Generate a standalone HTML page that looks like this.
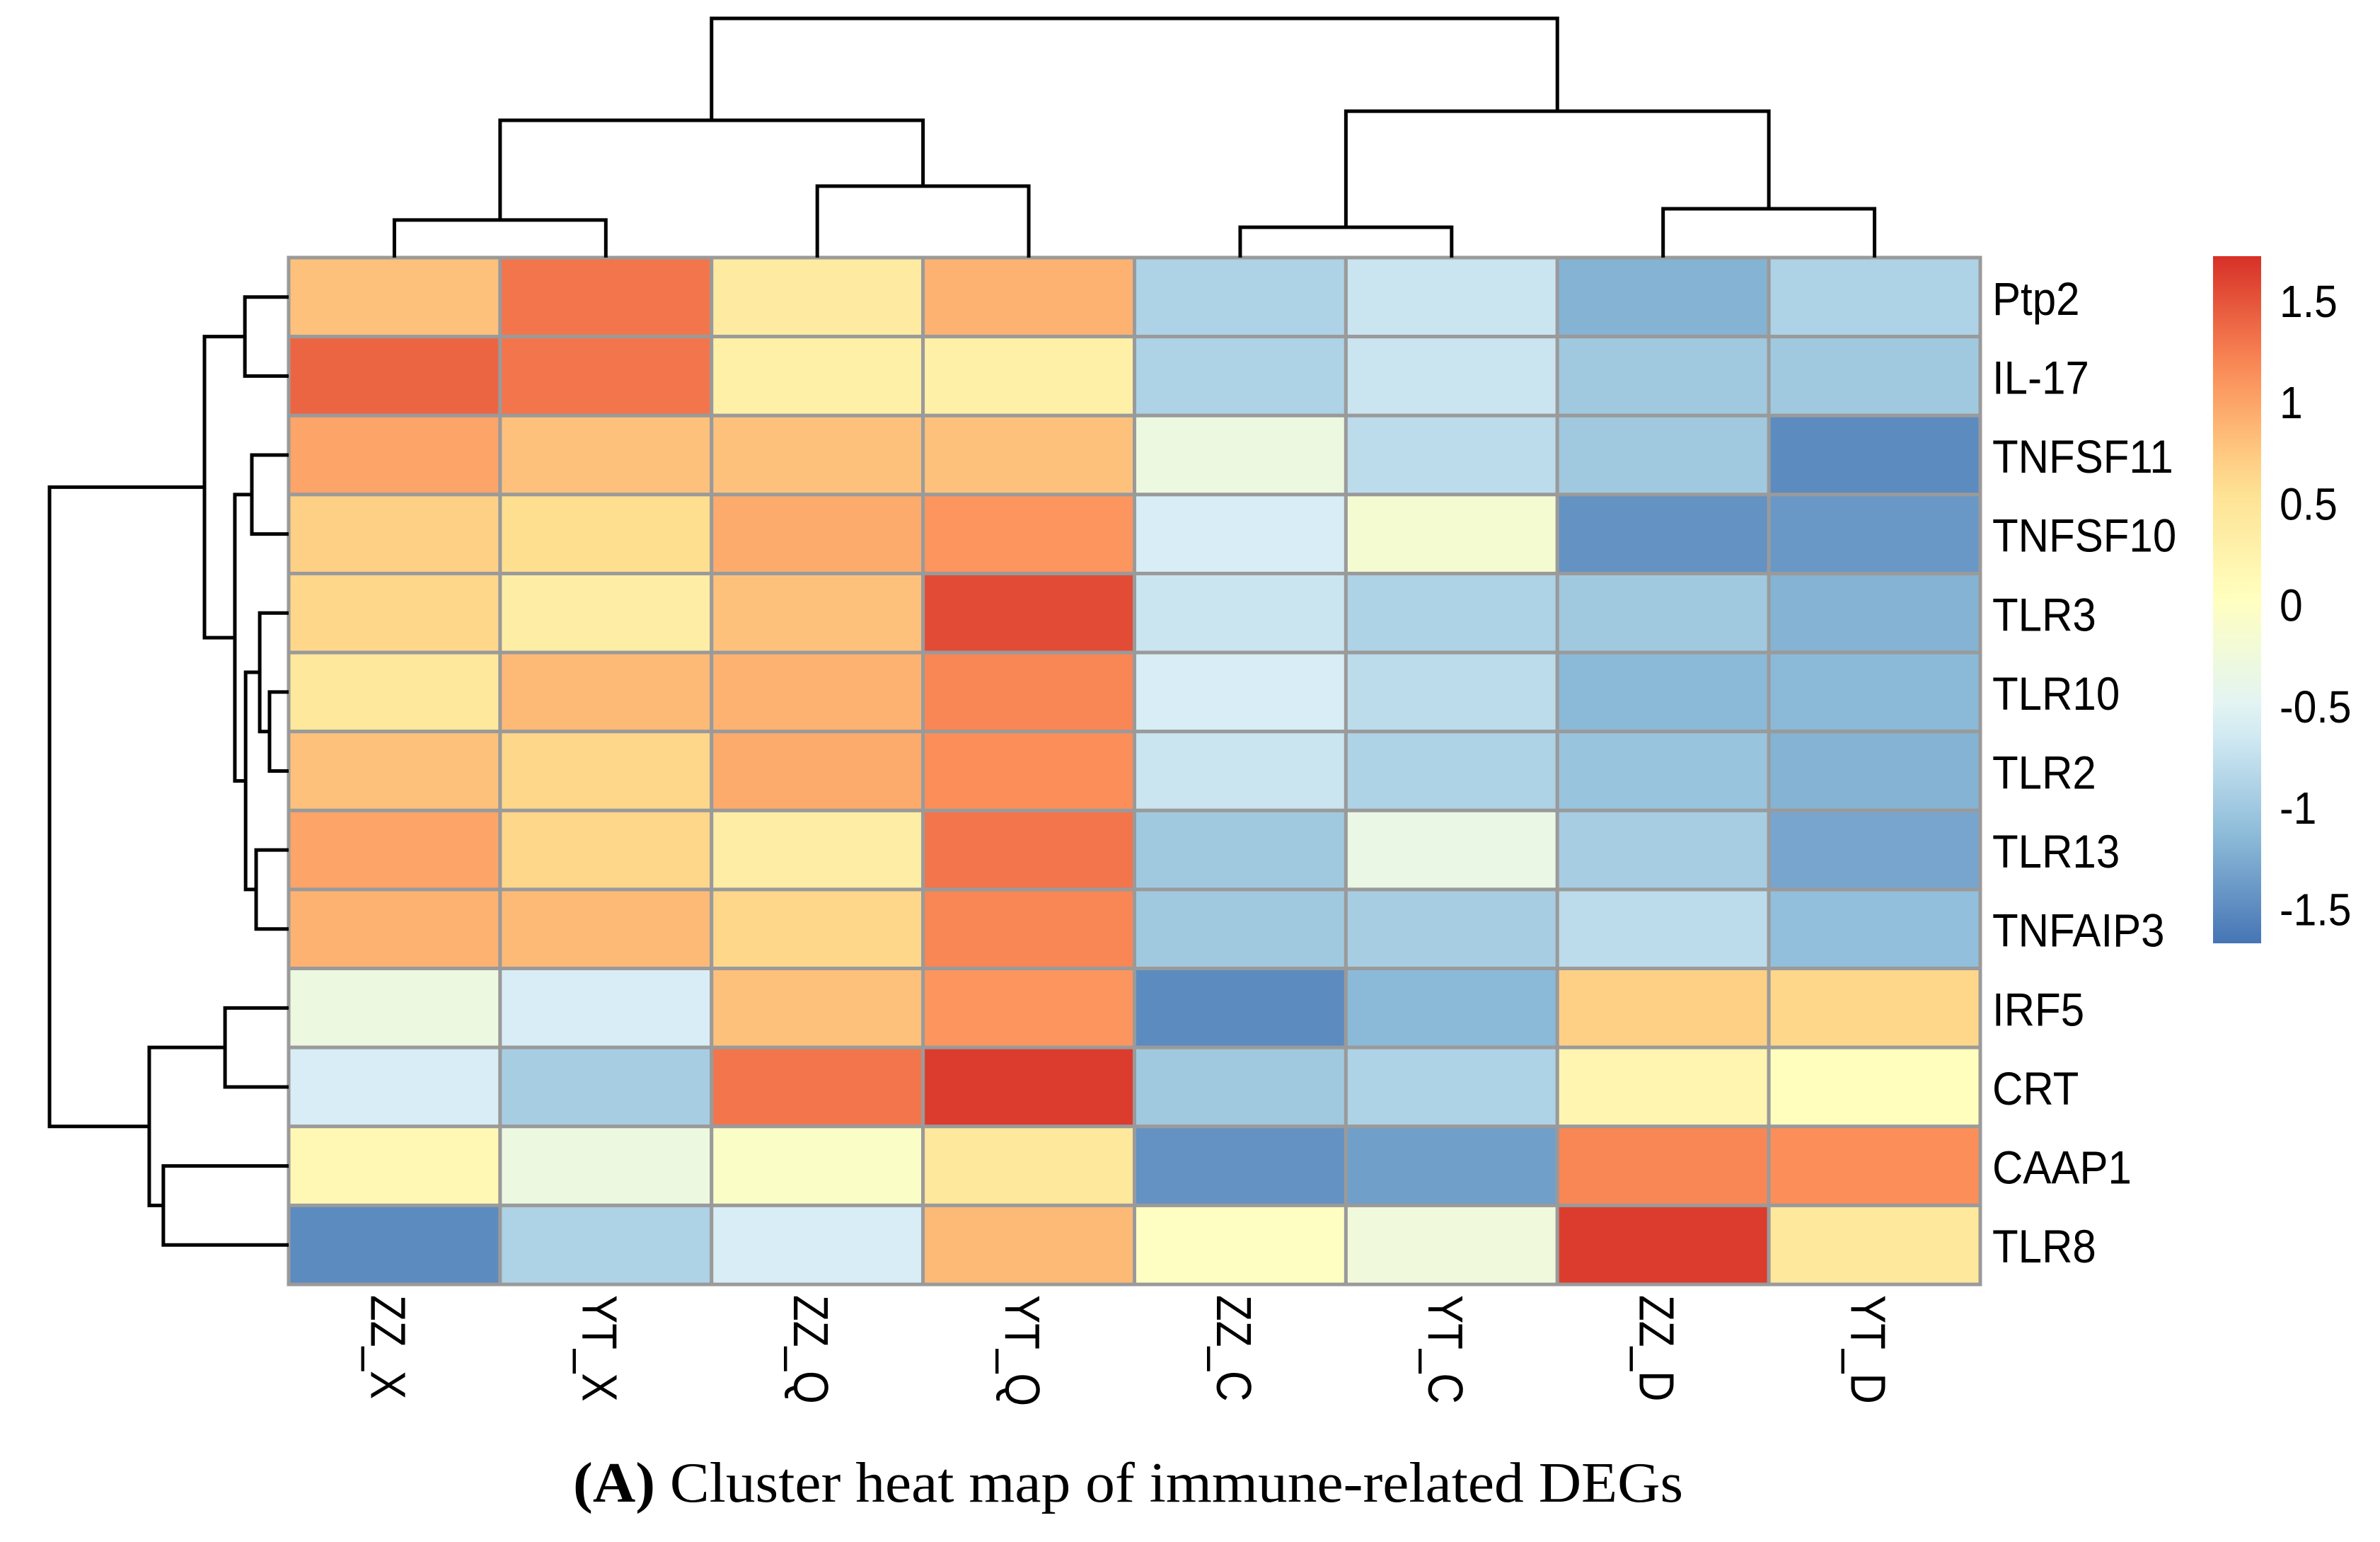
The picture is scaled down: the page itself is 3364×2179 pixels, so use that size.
<!DOCTYPE html>
<html><head><meta charset="utf-8"><style>
html,body{margin:0;padding:0;background:#fff;}
svg{display:block;}
</style></head><body>
<svg id="chart" xmlns="http://www.w3.org/2000/svg" width="3364" height="2179" viewBox="0 0 3364 2179">
<rect width="3364" height="2179" fill="#fff"/>
<g id="cells"></g>
<g id="coldendro"></g>
<g id="rowdendro"></g>
<g id="labels"></g>
<defs><linearGradient id="cbgrad" x1="0" y1="1" x2="0" y2="0"></linearGradient></defs>
<g id="legend"></g>
<text x="810" y="2122" font-family="'Liberation Serif', serif" font-size="80" textLength="1569" lengthAdjust="spacingAndGlyphs" fill="#000"><tspan font-weight="bold">(A)</tspan>  Cluster heat map of immune-related DEGs</text>
</svg>
<script>
const rowNames = ["Ptp2","IL-17","TNFSF11","TNFSF10","TLR3","TLR10","TLR2","TLR13","TNFAIP3","IRF5","CRT","CAAP1","TLR8"];
const colNames = ["ZZ_X","YT_X","ZZ_Q","YT_Q","ZZ_C","YT_C","ZZ_D","YT_D"];
const values = [
 [0.8,1.3,0.4,0.9,-0.9,-0.7,-1.2,-0.9],
 [1.4,1.3,0.3,0.3,-0.9,-0.7,-1.0,-1.0],
 [1.0,0.8,0.8,0.8,-0.3,-0.8,-1.0,-1.5],
 [0.7,0.6,0.95,1.1,-0.6,-0.15,-1.45,-1.4],
 [0.65,0.35,0.8,1.55,-0.7,-0.9,-1.0,-1.2],
 [0.45,0.85,0.9,1.2,-0.6,-0.8,-1.15,-1.15],
 [0.8,0.65,0.95,1.15,-0.7,-0.9,-1.05,-1.2],
 [1.0,0.65,0.35,1.3,-1.0,-0.35,-0.95,-1.3],
 [0.9,0.85,0.65,1.2,-1.0,-0.95,-0.8,-1.1],
 [-0.3,-0.6,0.8,1.1,-1.5,-1.15,0.7,0.65],
 [-0.6,-0.95,1.3,1.65,-1.0,-0.9,0.2,0.05],
 [0.15,-0.3,-0.05,0.45,-1.45,-1.35,1.2,1.15],
 [-1.5,-0.9,-0.6,0.85,0.0,-0.25,1.65,0.45]
];
const legendTicks = [1.5,1,0.5,0,-0.5,-1,-1.5];
const legendTickLabels = ["1.5","1","0.5","0","-0.5","-1","-1.5"];
// dendrogram merges: [childA, childB, distance]; children < n are leaves, >= n are earlier merges
const colMerges = [[0,1,1.57],[2,3,2.99],[8,9,5.74],[4,5,1.27],[6,7,2.04],[11,12,6.12],[10,13,10]];
const rowMerges = [[0,1,1.83],[2,3,1.54],[5,6,0.8],[4,15,1.21],[7,8,1.36],[16,17,1.80],[14,18,2.25],[13,19,3.52],[9,10,2.66],[11,12,5.24],[21,22,5.83],[20,23,10]];

const NS="http://www.w3.org/2000/svg";
const L=408,R=2799,T=364,B=1815;
const cw=(R-L)/colNames.length, rh=(B-T)/rowNames.length;
const xCol=i=>L+cw*(i+0.5), yRow=i=>T+rh*(i+0.5);
const vmin=-1.67,vmax=1.72;
const pal=["#4575B4","#91BFDB","#E0F3F8","#FFFFBF","#FEE090","#FC8D59","#D73027"];
function hex(c){return [1,3,5].map(i=>parseInt(c.substr(i,2),16));}
function color(v){let t=(v-vmin)/(vmax-vmin);t=Math.max(0,Math.min(1,t))*(pal.length-1);
 const i=Math.min(pal.length-2,Math.floor(t)),f=t-i;const a=hex(pal[i]),b=hex(pal[i+1]);
 return "rgb("+a.map((x,k)=>Math.round(x+(b[k]-x)*f)).join(",")+")";}
function el(tag,attrs,parent){const e=document.createElementNS(NS,tag);for(const k in attrs)e.setAttribute(k,attrs[k]);parent.appendChild(e);return e;}

const cells=document.getElementById("cells");
values.forEach((row,r)=>row.forEach((v,c)=>{
 const e=el("rect",{x:L+c*cw,y:T+r*rh,width:cw,height:rh,fill:color(v),stroke:"#9a9a9a","stroke-width":5},cells);
 
 
}));

function dendro(merges,n,leafPos,distPos,horizontalTop,g){
 const pos=[],dist=[];
 for(let i=0;i<n;i++){pos.push(leafPos(i));dist.push(0);}
 merges.forEach(m=>{
  const [a,b,d]=m;const pa=pos[a],pb=pos[b];const da=distPos(dist[a]),db=distPos(dist[b]),dd=distPos(d);
  let p;
  if(horizontalTop) p=`M${pa},${da} L${pa},${dd} L${pb},${dd} L${pb},${db}`;
  else p=`M${da},${pa} L${dd},${pa} L${dd},${pb} L${db},${pb}`;
  const e=el("path",{d:p,fill:"none",stroke:"#000","stroke-width":5},g);
  
  
  pos.push((pa+pb)/2);dist.push(d);
 });
}
dendro(colMerges,colNames.length,xCol,d=>T-d*33.8,true,document.getElementById("coldendro"));
dendro(rowMerges,rowNames.length,yRow,d=>L-d*33.8,false,document.getElementById("rowdendro"));

const labels=document.getElementById("labels");
rowNames.forEach((nm,i)=>{
 const t=el("text",{transform:`translate(2816,${yRow(i)+25}) scale(0.91,1)`,"font-family":"'Liberation Sans', sans-serif","font-size":66,fill:"#000"},labels);
 t.textContent=nm;
 
 
});
colNames.forEach((nm,i)=>{
 const t=el("text",{transform:`translate(${xCol(i)-33},1830) rotate(90) scale(0.86,1)`,"font-family":"'Liberation Sans', sans-serif","font-size":70,fill:"#000"},labels);
 t.textContent=nm;
 
 
});

const grad=document.getElementById("cbgrad");
for(let k=0;k<=20;k++){const v=vmin+(vmax-vmin)*k/20;el("stop",{offset:(k/20),"stop-color":color(v)},grad);}
const lg=document.getElementById("legend");
const cbT=362,cbB=1333,cbX=3128,cbW=68;
const yLeg=v=>cbB-(v-vmin)/(vmax-vmin)*(cbB-cbT);
const cb=el("rect",{x:cbX,y:cbT,width:cbW,height:cbB-cbT,fill:"url(#cbgrad)"},lg);


legendTicks.forEach((v,i)=>{
 const t=el("text",{transform:`translate(3222,${yLeg(v)+23}) scale(0.92,1)`,"font-family":"'Liberation Sans', sans-serif","font-size":64,fill:"#000"},lg);
 t.textContent=legendTickLabels[i];
 
 
});
</script>
</body></html>
